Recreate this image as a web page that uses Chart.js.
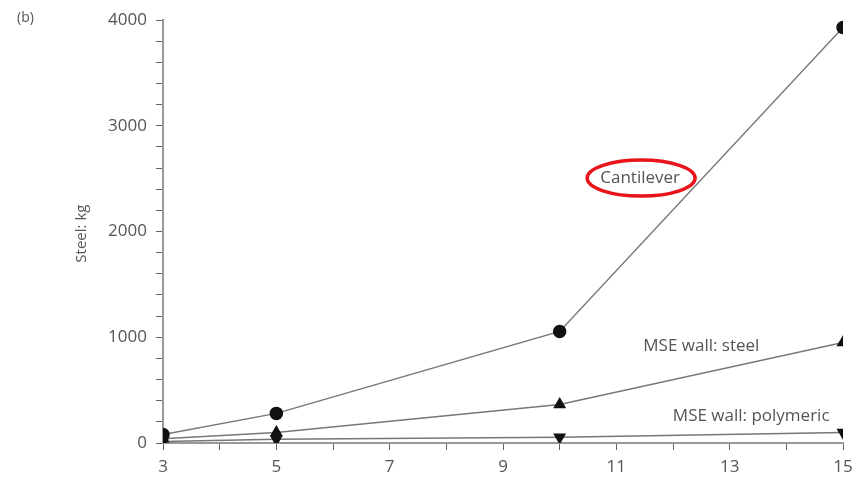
<!DOCTYPE html>
<html><head><meta charset="utf-8">
<script src="https://cdn.jsdelivr.net/npm/chart.js@4"></script>
<style>html,body{margin:0;padding:0;background:#fff}#wrap{width:863px;height:483px;position:relative}</style>
</head><body><div id="wrap"><canvas id="c" width="863" height="483"></canvas></div>
<script>
const heights = [3, 5, 10, 15];
const cantilever = [80, 280, 1055, 3930];
const mseSteel = [40, 100, 365, 950];
const msePolymeric = [15, 35, 55, 100];
const seriesNames = ['Cantilever', 'MSE wall: steel', 'MSE wall: polymeric'];
const labelAnchors = [[11.42, 2505], [12.5, 915], [13.38, 255]];
const xTickLabels = [3, 5, 7, 9, 11, 13, 15];
const yTickLabels = [0, 1000, 2000, 3000, 4000];
const yTitle = 'Steel: kg';
const panelTag = '(b)';

const toXY = arr => heights.map((h, i) => ({x: h, y: arr[i]}));
const FONT = "'Open Sans', 'Noto Sans', sans-serif";

const labelPlugin = {
  id: 'labels',
  afterDatasetsDraw(chart) {
    const {ctx, scales: {x, y}} = chart;
    ctx.save();
    ctx.font = "17px " + FONT;
    ctx.fillStyle = '#555';
    ctx.textAlign = 'center';
    ctx.textBaseline = 'middle';
    seriesNames.forEach((n, i) => {
      const px = x.getPixelForValue(labelAnchors[i][0]);
      const py = y.getPixelForValue(labelAnchors[i][1]);
      ctx.fillText(n, px, py);
      if (i === 0) {
        ctx.strokeStyle = '#e8141a';
        ctx.lineWidth = 3.5;
        ctx.beginPath();
        ctx.ellipse(px + 1, py, 54, 18, 0, 0, Math.PI * 2);
        ctx.stroke();
      }
    });
    ctx.font = "14px " + FONT;
    ctx.textAlign = 'left';
    ctx.fillText(panelTag, 17, 18);
    ctx.font = "15px " + FONT;
    ctx.textAlign = 'center';
    ctx.translate(82, y.getPixelForValue(1980));
    ctx.rotate(-Math.PI / 2);
    ctx.fillText(yTitle, 0, 0);
    ctx.restore();
  }
};

const common = {showLine: true, borderColor: '#777', borderWidth: 1.5, pointBackgroundColor: '#111', pointBorderColor: '#111', pointRadius: 6, pointHoverRadius: 6, tension: 0};

new Chart(document.getElementById('c'), {
  type: 'scatter',
  data: {datasets: [
    Object.assign({label: seriesNames[0], data: toXY(cantilever), pointStyle: 'circle'}, common),
    Object.assign({label: seriesNames[1], data: toXY(mseSteel), pointStyle: 'triangle'}, common),
    Object.assign({label: seriesNames[2], data: toXY(msePolymeric), pointStyle: 'triangle', rotation: 180}, common)
  ]},
  options: {
    responsive: false, animation: false, devicePixelRatio: 1,
    layout: {padding: {left: 0, right: 20, top: 20, bottom: 0}},
    plugins: {legend: {display: false}, tooltip: {enabled: false}},
    scales: {
      x: {
        type: 'linear', min: 3, max: 15,
        afterFit(s) { s.height = 40; },
        border: {color: '#999', width: 2},
        grid: {drawOnChartArea: false, drawTicks: true, tickLength: 7, color: '#666'},
        ticks: {stepSize: 1, autoSkip: false, maxRotation: 0, color: '#555', font: {size: 17, family: FONT}, padding: 7,
          callback: v => xTickLabels.includes(v) ? String(v) : ''}
      },
      y: {
        type: 'linear', min: 0, max: 4000,
        afterFit(s) { s.width = 163; },
        border: {color: '#999', width: 2},
        grid: {drawOnChartArea: false, drawTicks: true, tickLength: 7, color: '#666'},
        ticks: {stepSize: 200, autoSkip: false, color: '#555', font: {size: 17, family: FONT}, padding: 9,
          callback: v => yTickLabels.includes(v) ? String(v) : ''}
      }
    }
  },
  plugins: [labelPlugin]
});
</script></body></html>
